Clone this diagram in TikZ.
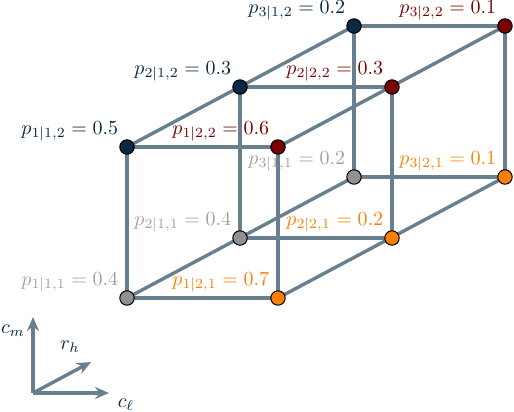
\documentclass[tikz,border=0pt]{standalone}
\usetikzlibrary{arrows.meta}
\definecolor{edgec}{RGB}{104,128,142}
\definecolor{dblue}{RGB}{8,40,68}
\definecolor{dred}{RGB}{120,0,0}
\definecolor{orng}{RGB}{255,128,0}
\definecolor{gnode}{RGB}{145,145,145}
\definecolor{gtext}{RGB}{160,160,160}
\tikzset{
  edge/.style={draw=edgec, line width=1.7pt},
  pt/.style={circle, draw=black, line width=0.5pt, minimum size=7.2pt, inner sep=0pt},
  lab/.style={inner sep=2pt, yshift=-2pt, xshift=0.5pt, font=\fontsize{9.6}{11}\selectfont},
  ax/.style={draw=edgec, line width=1.7pt, -{Stealth[length=7pt,width=6pt]}},
}
\begin{document}
\begin{tikzpicture}[x=0.5pt,y=-0.5pt]
\useasboundingbox (0,0) rectangle (514,412);
% coordinates of cube vertices
\coordinate (a111) at (127,298);
\coordinate (a121) at (278,298);
\coordinate (a211) at (240,238);
\coordinate (a221) at (392,238);
\coordinate (a311) at (354,177);
\coordinate (a321) at (505,177);
\coordinate (a112) at (127,147);
\coordinate (a122) at (278,147);
\coordinate (a212) at (240,87);
\coordinate (a222) at (392,87);
\coordinate (a312) at (354,26);
\coordinate (a322) at (505,26);
% edges
\draw[edge] (a111) -- (a121);
\draw[edge] (a211) -- (a221);
\draw[edge] (a311) -- (a321);
\draw[edge] (a112) -- (a122);
\draw[edge] (a212) -- (a222);
\draw[edge] (a312) -- (a322);
\draw[edge] (a111) -- (a311);
\draw[edge] (a121) -- (a321);
\draw[edge] (a112) -- (a312);
\draw[edge] (a122) -- (a322);
\draw[edge] (a111) -- (a112);
\draw[edge] (a121) -- (a122);
\draw[edge] (a211) -- (a212);
\draw[edge] (a221) -- (a222);
\draw[edge] (a311) -- (a312);
\draw[edge] (a321) -- (a322);
% nodes
\node[pt, fill=gnode, label={[lab, text=gtext]above left:$p_{1|1,1}=0.4$}] (n111) at (a111) {};
\node[pt, fill=gnode, label={[lab, text=gtext]above left:$p_{2|1,1}=0.4$}] (n211) at (a211) {};
\node[pt, fill=gnode, label={[lab, text=gtext]above left:$p_{3|1,1}=0.2$}] (n311) at (a311) {};
\node[pt, fill=orng, label={[lab, text=orng]above left:$p_{1|2,1}=0.7$}] (n121) at (a121) {};
\node[pt, fill=orng, label={[lab, text=orng]above left:$p_{2|2,1}=0.2$}] (n221) at (a221) {};
\node[pt, fill=orng, label={[lab, text=orng]above left:$p_{3|2,1}=0.1$}] (n321) at (a321) {};
\node[pt, fill=dblue, label={[lab, text=dblue]above left:$p_{1|1,2}=0.5$}] (n112) at (a112) {};
\node[pt, fill=dblue, label={[lab, text=dblue]above left:$p_{2|1,2}=0.3$}] (n212) at (a212) {};
\node[pt, fill=dblue, label={[lab, text=dblue]above left:$p_{3|1,2}=0.2$}] (n312) at (a312) {};
\node[pt, fill=dred, label={[lab, text=dred]above left:$p_{1|2,2}=0.6$}] (n122) at (a122) {};
\node[pt, fill=dred, label={[lab, text=dred]above left:$p_{2|2,2}=0.3$}] (n222) at (a222) {};
\node[pt, fill=dred, label={[lab, text=dred]above left:$p_{3|2,2}=0.1$}] (n322) at (a322) {};
% axes
\coordinate (o) at (33,393);
\coordinate (xe) at (109,393);
\coordinate (ye) at (33,317);
\coordinate (ze) at (91,362);
\draw[ax] (o) -- (xe);
\draw[ax] (o) -- (ye);
\draw[ax] (o) -- (ze);
\node[text=dblue, inner sep=0pt] (lcl) at (126,405) {$c_\ell$};
\node[text=dblue, inner sep=0pt] (lcm) at (13,331) {$c_m$};
\node[text=dblue, inner sep=0pt] (lrh) at (70,347) {$r_h$};
\end{tikzpicture}
\end{document}
